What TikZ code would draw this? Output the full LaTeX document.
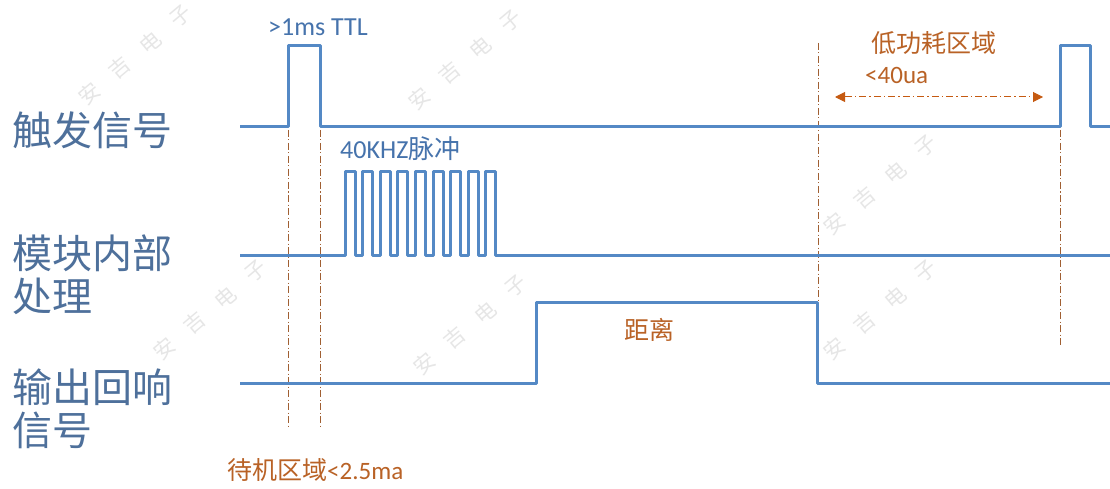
\documentclass[tikz,border=0pt]{standalone}
\usepackage{fontspec}
\setmainfont{Carlito}
\newfontfamily\cjk{Noto Sans CJK SC}
\usetikzlibrary{arrows.meta}
\definecolor{sigblue}{RGB}{84,137,197}
\definecolor{lblblue}{RGB}{78,112,155}
\definecolor{txtblue}{RGB}{70,115,172}
\definecolor{txtorange}{RGB}{185,98,38}
\definecolor{arrorange}{RGB}{197,90,17}
\definecolor{dashbrown}{RGB}{160,95,50}
\definecolor{wmgray}{RGB}{230,230,230}
\begin{document}
\begin{tikzpicture}[x=1pt,y=-1pt,
  sig/.style={draw=sigblue,line width=3pt,line join=round},
  guide/.style={draw=dashbrown,line width=0.9pt,dash pattern=on 7pt off 2.5pt on 1pt off 2.5pt},
  lbl/.style={text=lblblue,font=\cjk\fontsize{40}{43}\selectfont,inner sep=0pt,anchor=west,align=left},
  bluenote/.style={text=txtblue,inner sep=0pt,font=\fontsize{26}{28}\selectfont},
  orangenote/.style={text=txtorange,inner sep=0pt,font=\fontsize{25}{28}\selectfont},
  wmch/.style={text=wmgray,font=\cjk\fontsize{21}{21}\selectfont,rotate=40,inner sep=0pt}]
\fill[white] (0,0) rectangle (1110,489);
\useasboundingbox (0,0) rectangle (1110,489);

% faint watermarks, one glyph per node along a 40 degree diagonal
\foreach \cx/\cy [count=\w] in {135/55, 465/60, 880/185, 210/310, 470/325, 880/310} {
  \foreach \ch [count=\i] in {安,吉,电,子} {
    \node[wmch] (wm\w-\i) at ({\cx+(\i-2.5)*30.6},{\cy-(\i-2.5)*25.7}) {\ch};
  }
}

% row labels
\node[lbl] (l1) at (12,130) {触发信号};
\node[lbl] (l2) at (12,275) {模块内部\\处理};
\node[lbl] (l3) at (12,409) {输出回响\\信号};

% guide coordinates
\coordinate (g1t) at (288,130); \coordinate (g1b) at (288,428);
\coordinate (g2t) at (320,130); \coordinate (g2b) at (320,428);
\coordinate (g3t) at (818,43);  \coordinate (g3b) at (818,305);
\coordinate (g4t) at (1060,130); \coordinate (g4b) at (1060,345);
\draw[guide] (g1t) -- (g1b);
\draw[guide] (g2t) -- (g2b);
\draw[guide] (g3t) -- (g3b);
\draw[guide] (g4t) -- (g4b);

% trigger signal
\draw[sig] (240,127) -- (288,127) -- (288,46) -- (320,46) -- (320,127)
  -- (1060,127) -- (1060,46) -- (1090,46) -- (1090,127) -- (1110,127);

% module internal processing: 40kHz burst
\draw[sig] (240,255) -- (345,255)
  \foreach \k in {0,...,8} {
    -- ({345+17.6*\k},255) -- ({345+17.6*\k},172) -- ({355+17.6*\k},172) -- ({355+17.6*\k},255)
  } -- (1110,255);

% echo output
\draw[sig] (240,383) -- (536,383) -- (536,302) -- (817,302) -- (817,383) -- (1110,383);

% low-power arrow
\coordinate (al) at (835,97);
\coordinate (ar) at (1043,97);
\draw[draw=arrorange,line width=1pt,dash pattern=on 7pt off 3pt on 1.5pt off 3pt,
  {Triangle[length=10pt,width=10pt,fill=arrorange]}-{Triangle[length=10pt,width=10pt,fill=arrorange]}] (al) -- (ar);

% annotations
\node[bluenote] (ttl) at (318,27) {>1ms TTL};
\node[bluenote,anchor=west] (burst) at (340,149) {40KHZ{\cjk 脉冲}};
\node[orangenote] (lp) at (934,43) {\cjk 低功耗区域};
\node[orangenote,anchor=west] (lpc) at (865,75) {<40ua};
\node[orangenote] (dist) at (649,330) {\cjk 距离};
\node[orangenote,anchor=west] (stby) at (227,470) {{\cjk 待机区域}<2.5ma};
\end{tikzpicture}
\end{document}
